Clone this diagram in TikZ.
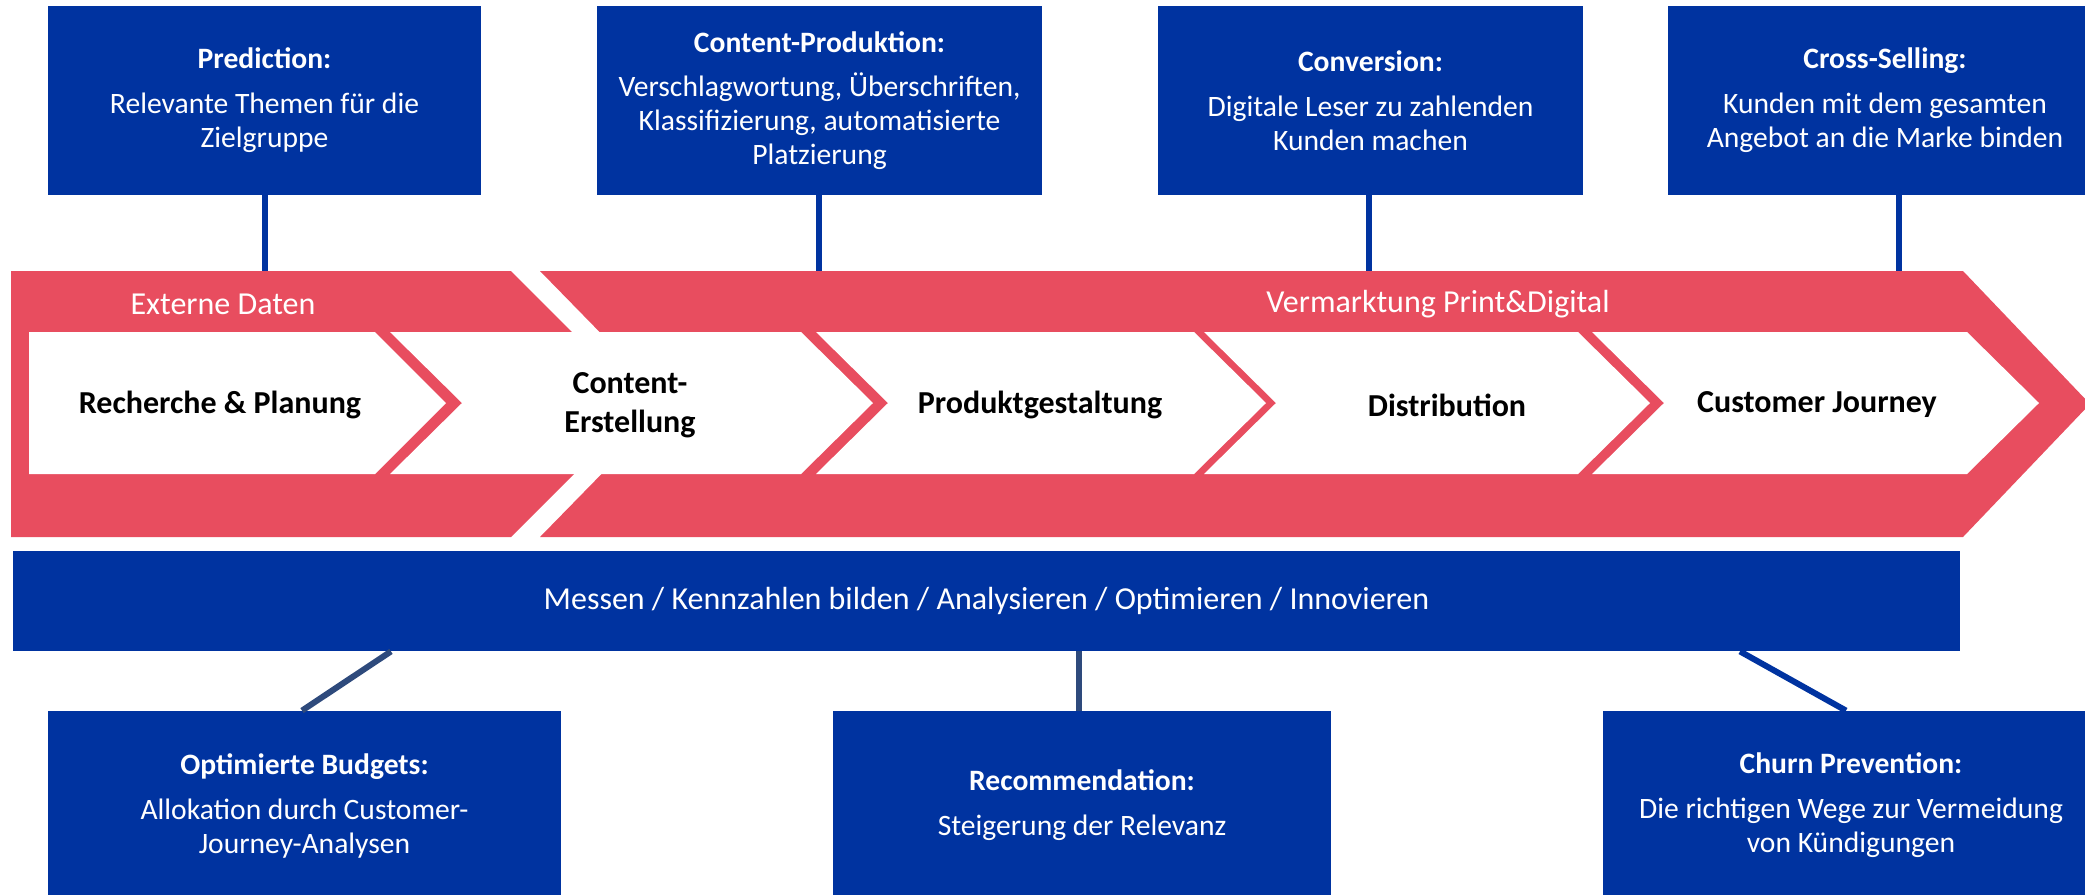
\documentclass[tikz,border=0pt]{standalone}
\usepackage{fontspec}
\setmainfont{Carlito}
\definecolor{boxblue}{RGB}{0,51,160}
\definecolor{bandred}{RGB}{232,77,95}
\definecolor{linkgray}{RGB}{46,74,124}
\newcommand\stage[3]{\node[stage label](#1)at(#2){#3};}

\begin{document}
\begin{tikzpicture}[x=0.5pt,y=-0.5pt,font=\fontsize{14.8}{17}\selectfont]
% Node styles: blue boxes, white text on the band, bold text in the chevrons
\tikzstyle{info box}=[fill=boxblue,text=white,align=center,inner sep=0pt,minimum height=94.5pt];
\tikzstyle{band label}=[text=white,font=\fontsize{16}{19}\selectfont];
\tikzstyle{stage label}=[align=center,font=\fontsize{16}{19.5}\selectfont\bfseries];
\tikzstyle{link}=[line width=3pt,boxblue];
\useasboundingbox (0,0) rectangle (2085,895);
% The red bands
\fill[bandred] (11,271) -- (511,271) -- (644,404) -- (511,537) -- (11,537) -- cycle;
\fill[bandred] (540,271) -- (1963,271) -- (2090,404) -- (1963,537) -- (540,537) -- (670,404) -- cycle;
\node[band label](ext)at(223,304){Externe Daten};
\node[band label](mkt)at(1438,304){Vermarktung Print\&Digital};
% The white chevrons
\fill[white] (29,332) -- (375,332) -- ++(71,71) -- (375,474) -- (29,474) -- cycle;
\foreach \l/\r in {390/801,816/1194,1204/1578,1592/1967}
\fill[white] (\l,332) -- (\r,332) -- ++(72,71) -- (\r,474) -- (\l,474) -- ++(72,-71) -- cycle;
\stage{s1}{220,405}{Recherche \& Planung}
\stage{s2}{630,405}{Content-\\Erstellung}
\stage{s3}{1040,405}{Produktgestaltung}
\stage{s4}{1447,405}{Distribution}
\stage{s5}{1817,405}{Customer Journey}
% Boxes above the band
\node[info box,minimum width=216.5pt](pred)at(264.5,100.5){\textbf{Prediction:}\\[5.5pt]Relevante Themen für die\\Zielgruppe};
\node[info box,minimum width=222.5pt](prod)at(819.5,100.5){\textbf{Content-Produktion:}\\[5pt]Verschlagwortung, Überschriften,\\Klassifizierung, automatisierte\\Platzierung};
\node[info box,minimum width=212.5pt](conv)at(1370.5,100.5){\textbf{Conversion:}\\[5.5pt]Digitale Leser zu zahlenden\\Kunden machen};
\node[info box,minimum width=217pt](cross)at(1885,100.5){\textbf{Cross-Selling:}\\[5.5pt]Kunden mit dem gesamten\\Angebot an die Marke binden};
\coordinate(hook1)at(265,271);
\coordinate(hook2)at(819,271);
\coordinate(hook3)at(1369,271);
\coordinate(hook4)at(1899,271);
\draw[link] (pred.south -| hook1) -- (hook1);
\draw[link] (prod.south -| hook2) -- (hook2);
\draw[link] (conv.south -| hook3) -- (hook3);
\draw[link] (cross.south -| hook4) -- (hook4);
% The bar and the boxes below it
\node[info box,minimum width=973.5pt,minimum height=50pt,font=\fontsize{16}{19}\selectfont](bar)at(986.5,601){Messen / Kennzahlen bilden / Analysieren / Optimieren / Innovieren};
\node[info box,minimum width=256.5pt](budg)at(304.5,805.5){\textbf{Optimierte Budgets:}\\[5.5pt]Allokation durch Customer-\\Journey-Analysen};
\node[info box,minimum width=249pt](reco)at(1082,805.5){\textbf{Recommendation:}\\[5.5pt]Steigerung der Relevanz};
\node[info box,minimum width=248pt](churn)at(1851,805.5){\textbf{Churn Prevention:}\\[5.5pt]Die richtigen Wege zur Vermeidung\\von Kündigungen};
\coordinate(foot1)at(391,0);
\coordinate(head1)at(302,0);
\coordinate(foot2)at(1079,0);
\coordinate(foot3)at(1740,0);
\coordinate(head3)at(1846,0);
\draw[link,linkgray] (bar.south -| foot1) -- (budg.north -| head1);
\draw[link,linkgray] (bar.south -| foot2) -- (reco.north -| foot2);
\draw[link] (bar.south -| foot3) -- (churn.north -| head3);
\end{tikzpicture}
\end{document}
